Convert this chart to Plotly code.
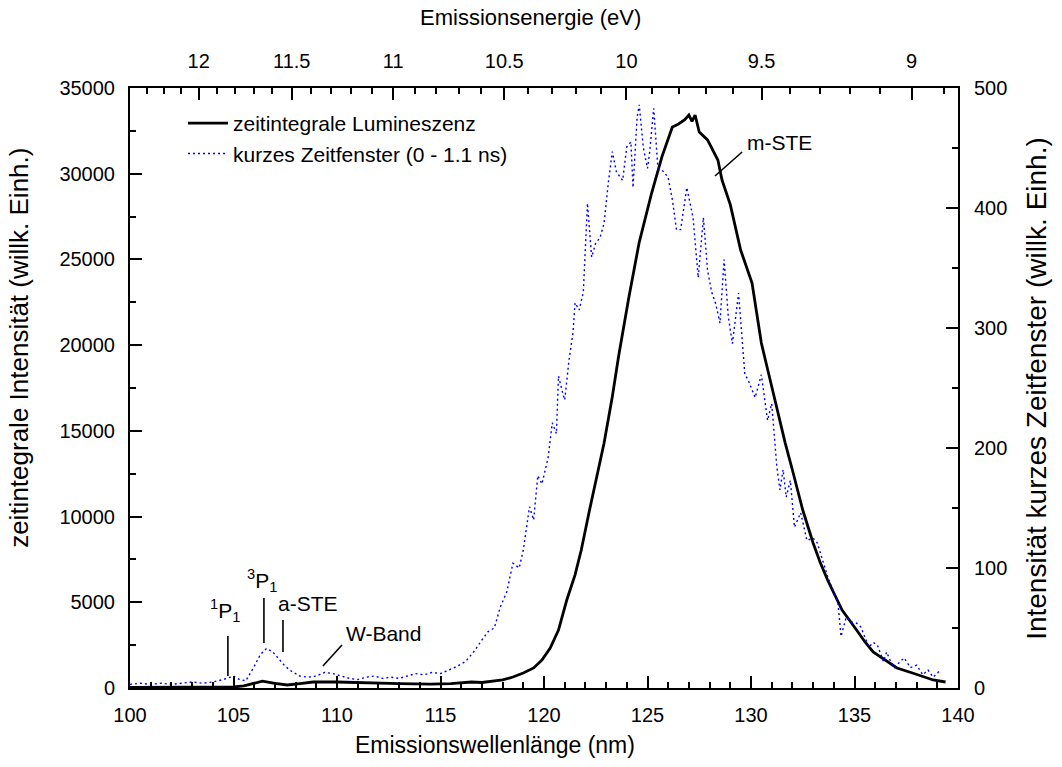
import plotly.graph_objects as go

# Time-integrated luminescence (left axis), wavelength in nm
wl_int = [100.0, 101.0, 102.0, 103.0, 104.0, 104.5, 105.0, 105.5, 106.0, 106.4,
          107.0, 107.6, 108.2, 108.85, 110.0, 111.3, 113.0, 114.5, 115.5, 116.5,
          117.0, 118.0, 118.5, 119.0, 119.5, 119.9, 120.3, 120.7, 121.1, 121.5,
          121.8, 122.2, 122.5, 122.9, 123.3, 123.6, 124.1, 124.6, 125.2, 125.7,
          126.2, 126.5, 126.8, 127.0, 127.15, 127.3, 127.5, 127.9, 128.4, 128.6,
          129.0, 129.5, 130.05, 130.5, 130.9, 131.3, 131.65, 132.0, 132.5, 133.0,
          133.35, 133.7, 134.4, 135.1, 135.5, 135.9, 136.5, 137.05, 137.8, 138.3,
          138.8, 139.4]
int_total = [30, 30, 30, 30, 30, 40, 60, 120, 300, 400,
             270, 175, 260, 350, 350, 290, 250, 230, 260, 350,
             320, 470, 640, 875, 1170, 1630, 2330, 3380, 5133, 6600,
             8050, 10383, 12035, 14273, 16990, 19325, 22800, 26000, 28875, 31000,
             32725, 32900, 33150, 33425, 33050, 33425, 32430, 31970, 30800, 29630,
             28200, 25550, 23620, 20125, 18100, 16040, 14300, 12716, 10383, 8458,
             7300, 6300, 4550, 3383, 2700, 2100, 1600, 1167, 875, 650,
             467, 350]

# Short time window 0 - 1.1 ns (right axis)
wl_short = [100.0, 100.5, 101.0, 101.5, 102.0, 102.5, 103.0, 103.5, 104.0, 104.5,
            105.0, 105.3, 105.6, 106.0, 106.3, 106.6, 106.9, 107.2, 107.5, 107.8,
            108.2, 108.6, 109.0, 109.4, 109.8, 110.2, 110.6, 111.0, 111.4, 111.8,
            112.2, 112.6, 113.0, 113.4, 113.8, 114.2, 114.6, 115.0, 115.4, 115.8,
            116.2, 116.6, 117.0, 117.3, 117.6, 117.9, 118.2, 118.5, 118.8, 119.0,
            119.3, 119.5, 119.7, 119.9, 120.2, 120.4, 120.6, 120.7, 120.9, 121.0,
            121.2, 121.4, 121.5, 121.7, 121.9, 122.1, 122.3, 122.5, 122.7, 122.9,
            123.1, 123.3, 123.5, 123.8, 124.0, 124.2, 124.3, 124.5, 124.6, 124.8,
            125.0, 125.1, 125.3, 125.5, 125.8, 126.0, 126.2, 126.4, 126.6, 126.9,
            127.2, 127.45, 127.7, 127.9, 128.1, 128.3, 128.5, 128.7, 128.9, 129.1,
            129.4, 129.7, 129.9, 130.2, 130.5, 130.8, 131.0, 131.25, 131.4, 131.55,
            131.7, 131.9, 132.1, 132.4, 132.7, 133.0, 133.2, 133.5, 133.7, 134.0,
            134.2, 134.35, 134.6, 134.85, 135.1, 135.3, 135.5, 135.7, 135.9, 136.1,
            136.4, 136.55, 136.75, 136.95, 137.2, 137.4, 137.7, 138.0, 138.3, 138.55,
            138.8, 139.1]
int_short = [3, 4, 3, 4, 3, 4, 5, 4, 5, 7,
             10, 7, 6, 18, 28, 33, 30, 24, 18, 14,
             10, 9, 10, 13, 12, 10, 8, 7, 9, 10,
             8, 9, 8, 10, 12, 11, 13, 12, 15, 18,
             22, 30, 40, 47, 50, 68, 80, 104, 100, 115,
             151, 140, 177, 170, 192, 221, 212, 260, 246, 240,
             272, 296, 321, 315, 330, 404, 359, 371, 375, 387,
             420, 447, 430, 423, 451, 455, 417, 476, 486, 450,
             433, 446, 483, 434, 430, 425, 407, 382, 382, 417,
             392, 342, 392, 348, 330, 320, 304, 357, 310, 287,
             329, 262, 255, 242, 261, 223, 237, 184, 165, 182,
             159, 173, 134, 146, 123, 125, 121, 105, 93, 80,
             71, 43, 59, 55, 54, 51, 42, 34, 38, 36,
             22, 30, 22, 17, 22, 25, 17, 19, 11, 15,
             9, 14]

# Photon energy ticks for the top axis
energy_major = [12, 11.5, 11, 10.5, 10, 9.5, 9]
energy_labels = ["12", "11.5", "11", "10.5", "10", "9.5", "9"]
energy_minor = [round(12.3 - 0.1 * i, 1) for i in range(35)]
HC = 1239.84  # eV*nm

def ev_to_nm(e):
    return HC / e

FONT = "Liberation Sans, Arial, sans-serif"
TICK_SIZE = 20

fig = go.Figure()
fig.add_trace(go.Scatter(
    x=wl_int, y=int_total, mode="lines", name="zeitintegrale Lumineszenz",
    line=dict(color="black", width=2.8), xaxis="x", yaxis="y"))
fig.add_trace(go.Scatter(
    x=wl_short, y=int_short, mode="lines", name="kurzes Zeitfenster (0 - 1.1 ns)",
    line=dict(color="#0000ff", width=1.4, dash="2px,3px"), xaxis="x2", yaxis="y2"))

axis_common = dict(showline=True, linecolor="black", linewidth=2, ticks="inside",
                   tickcolor="black", tickwidth=1.6, ticklen=12, showgrid=False,
                   zeroline=False, tickfont=dict(family=FONT, size=TICK_SIZE, color="black"))
minor_common = dict(ticks="inside", ticklen=6, tickwidth=1.6, tickcolor="black")

fig.update_layout(
    width=1062, height=767,
    margin=dict(l=130, r=104, t=88, b=79),
    paper_bgcolor="white", plot_bgcolor="white",
    font=dict(family=FONT, size=TICK_SIZE, color="black"),
    showlegend=True,
    legend=dict(x=0.064, y=0.975, xanchor="left", yanchor="top",
                bgcolor="rgba(0,0,0,0)", font=dict(family=FONT, size=21),
                tracegroupgap=0, itemwidth=40),
    xaxis=dict(range=[100, 140], dtick=5, tick0=100,
               minor=dict(dtick=1, **minor_common),
               ticklabelstandoff=8, **axis_common),
    xaxis2=dict(range=[100, 140], overlaying="x", side="top", anchor="y",
                tickmode="array", tickvals=[ev_to_nm(e) for e in energy_major],
                ticktext=energy_labels,
                minor=dict(tickmode="array",
                           tickvals=[ev_to_nm(e) for e in energy_minor if e not in energy_major],
                           **minor_common),
                ticklabelstandoff=10, **axis_common),
    yaxis=dict(range=[0, 35000], dtick=5000, tickformat="d",
               minor=dict(dtick=2500, **minor_common),
               ticklabelstandoff=9, **axis_common),
    yaxis2=dict(range=[0, 500], dtick=100, overlaying="y", side="right", anchor="x2",
                minor=dict(dtick=50, **minor_common),
                ticklabelstandoff=10, **axis_common),
)

# Axis titles
titles = [
    ("Emissionswellenlänge (nm)", 0.441, -0.095, 0, 23),
    ("Emissionsenergie (eV)", 0.484, 1.117, 0, 22),
    ("zeitintegrale Intensität (willk. Einh.)", -0.134, 0.567, -90, 26),
    ("Intensität kurzes Zeitfenster (willk. Einh.)", 1.094, 0.5, -90, 28),
]
for text, px, py, angle, size in titles:
    fig.add_annotation(x=px, y=py, xref="paper", yref="paper", text=text,
                       showarrow=False, textangle=angle, xanchor="center", yanchor="middle",
                       font=dict(family=FONT, size=size, color="black"))

# Peak labels with pointer lines
labels = [
    ("m-STE", 131.4, 31850, (129.57, 31267, 128.26, 29867)),
    ("<sup>1</sup>P<sub>1</sub>", 104.6, 4550, (104.73, 3033, 104.73, 700)),
    ("<sup>3</sup>P<sub>1</sub>", 106.4, 6300, (106.47, 5250, 106.47, 2625)),
    ("a-STE", 108.6, 4958, (107.39, 3967, 107.39, 2100)),
    ("W-Band", 112.27, 3208, (110.24, 2508, 109.32, 1283)),
]
for text, tx, ty, (x0, y0, x1, y1) in labels:
    fig.add_annotation(x=tx, y=ty, xref="x", yref="y", text=text, showarrow=False,
                       font=dict(family=FONT, size=21, color="black"))
    fig.add_shape(type="line", x0=x0, y0=y0, x1=x1, y1=y1, xref="x", yref="y",
                  line=dict(color="black", width=1.6))

fig.write_html("out.html")
